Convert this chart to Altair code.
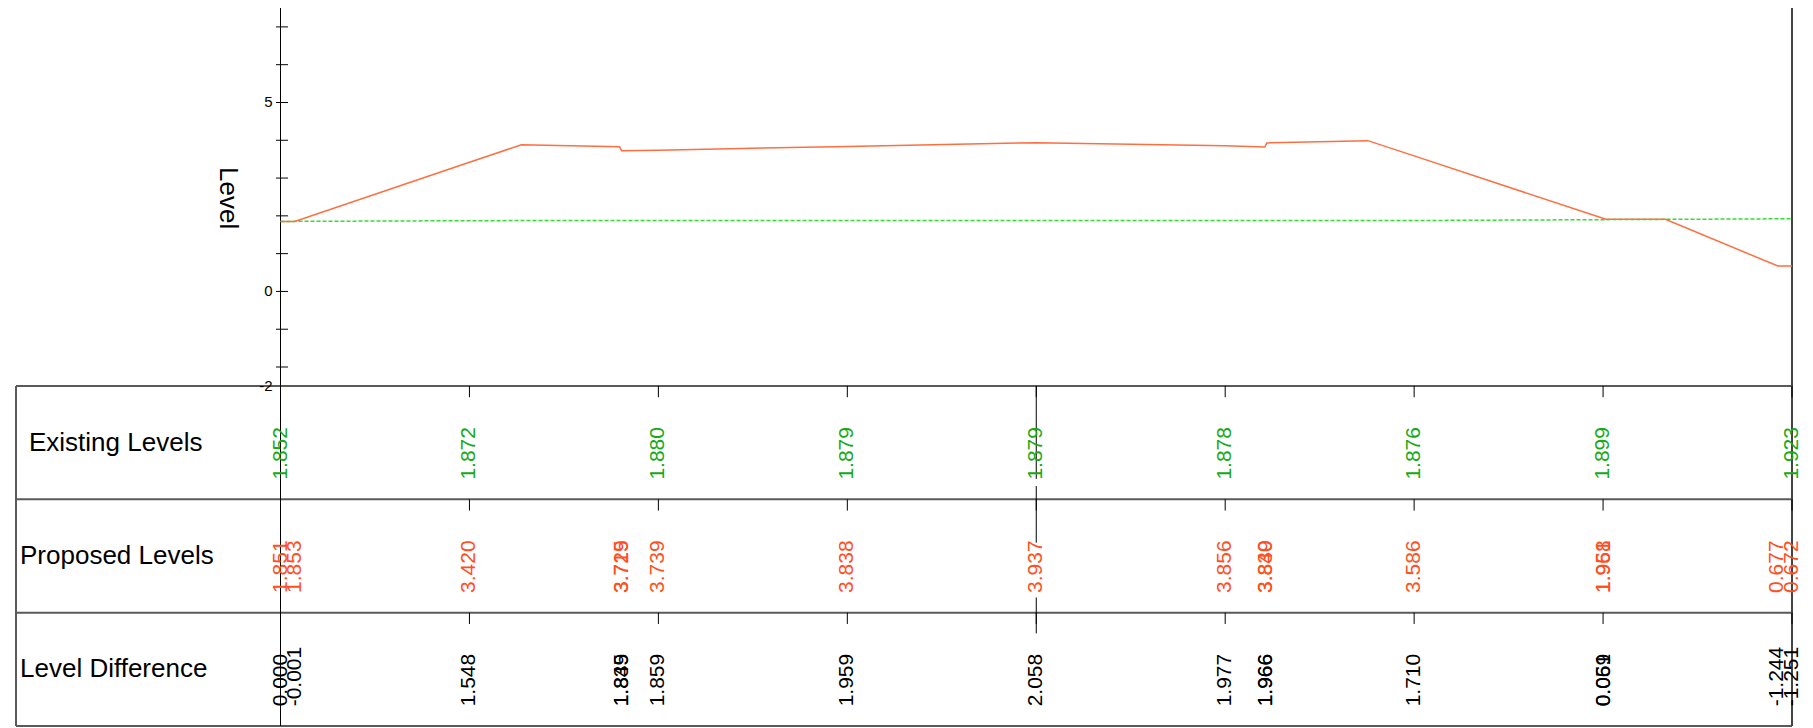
import altair as alt
import pandas as pd

FONT = "Liberation Sans"

# ---------------- data ----------------
# tabulated stations (chainage) and the existing ground levels there
station_ch = [0, 20, 40, 60, 80, 100, 120, 140, 160]
existing_levels = [1.852, 1.872, 1.880, 1.879, 1.879, 1.878, 1.876, 1.899, 1.923]

# proposed profile vertices as drawn (chainage, level)
profile_ch = [0, 1.5, 20, 25.5, 35.9, 36.1, 40, 60, 80, 100, 104.2, 104.4,
              115.1, 120, 140.3, 146.6, 158.5, 160]
profile_lv = [1.851, 1.853, 3.420, 3.88, 3.83, 3.72, 3.739, 3.838, 3.937, 3.856,
              3.82, 3.93, 3.99, 3.586, 1.91, 1.91, 0.672, 0.672]

# tabulated proposed levels / level differences (chainage, text)
label_ch = [0, 1.5, 20, 36.1, 36.1, 40, 60, 80, 100, 104.3, 104.3, 120,
            140.1, 140.1, 158.4, 160]
proposed_labels = ["1.851", "1.853", "3.420", "3.725", "3.719", "3.739", "3.838",
                   "3.937", "3.856", "3.839", "3.840", "3.586", "1.958", "1.961",
                   "0.677", "0.672"]
difference_labels = ["0.000", "-0.001", "1.548", "1.845", "1.839", "1.859", "1.959",
                     "2.058", "1.977", "1.966", "1.966", "1.710", "0.059", "0.061",
                     "-1.244", "-1.251"]

row_names = ["Existing Levels", "Proposed Levels", "Level Difference"]
y_tick_values = [-2, -1, 0, 1, 2, 3, 4, 5, 6, 7]
y_label_values = [-2.5, 0, 5]
y_label_texts = ["-2", "0", "5"]

# ---------------- layout constants ----------------
X_DOMAIN = [-28, 160]
Y_DOMAIN = [-11.5, 7.5]
ROW_TOPS = [-2.5, -5.5, -8.5]
ROW_H = 3.0
TICK_LEN = 0.3
LABEL_DROP = 2.48
MID_CH = 80
MID_SEGS = [(-2.5, -4.96), (-5.15, -6.65), (-8.1, -9.05)]
TITLE_POS = (-5.56, 2.47)

XS = alt.Scale(domain=X_DOMAIN, nice=False, zero=False)
YS = alt.Scale(domain=Y_DOMAIN, nice=False, zero=False)


def X(f):
    return alt.X(f, type="quantitative", scale=XS, axis=None)


def Y(f):
    return alt.Y(f, type="quantitative", scale=YS, axis=None)


GRAY = "#5a5a5a"

# table horizontal lines (full width)
edges_df = pd.DataFrame({"y": ROW_TOPS + [ROW_TOPS[-1] - ROW_H]})
hlines = alt.Chart(edges_df).mark_rule(color=GRAY, strokeWidth=2).encode(y=Y("y"))

# table left border
lb_df = pd.DataFrame({"x": [X_DOMAIN[0]], "y": [ROW_TOPS[0]], "y2": [ROW_TOPS[-1] - ROW_H]})
left_border = alt.Chart(lb_df).mark_rule(color=GRAY, strokeWidth=2).encode(
    x=X("x"), y=Y("y"), y2="y2:Q")

# right border (full height) at last station
rb_df = pd.DataFrame({"x": [station_ch[-1]]})
right_border = alt.Chart(rb_df).mark_rule(color="#444444", strokeWidth=2).encode(x=X("x"))

# vertical line at first station (y axis line, through the table)
ya_df = pd.DataFrame({"x": [station_ch[0]]})
yaxis_line = alt.Chart(ya_df).mark_rule(color="black", strokeWidth=1).encode(x=X("x"))

# y axis ticks and labels
yt_df = pd.DataFrame({"x": [station_ch[0]] * len(y_tick_values), "v": y_tick_values})
y_ticks = alt.Chart(yt_df).mark_tick(
    orient="horizontal", size=12, thickness=1, color="black", xOffset=1.5, opacity=1
).encode(x=X("x"), y=Y("v"))

yl_df = pd.DataFrame({"x": [station_ch[0]] * len(y_label_values), "v": y_label_values,
                      "t": y_label_texts})
y_labels = alt.Chart(yl_df).mark_text(
    align="right", baseline="middle", fontSize=15, font=FONT, color="black", dx=-8
).encode(x=X("x"), y=Y("v"), text="t:N")

# station ticks at the top of each table row
ticks_df = pd.DataFrame([(c, t) for t in ROW_TOPS for c in station_ch], columns=["ch", "top"])
station_ticks = alt.Chart(ticks_df).transform_calculate(
    bot=f"datum.top - {TICK_LEN}"
).mark_rule(color="black", strokeWidth=1).encode(x=X("ch"), y=Y("top"), y2="bot:Q")

# mid station marker line
mid_df = pd.DataFrame({"ch": [MID_CH] * len(MID_SEGS),
                       "y": [s[0] for s in MID_SEGS], "y2": [s[1] for s in MID_SEGS]})
mid_line = alt.Chart(mid_df).mark_rule(color="black", strokeWidth=1).encode(
    x=X("ch"), y=Y("y"), y2="y2:Q")

# existing ground line
ex_df = pd.DataFrame({"ch": station_ch, "lv": existing_levels})
ex_line = alt.Chart(ex_df).mark_line(color="#33dd33", strokeWidth=1.5, strokeDash=[4, 2]).encode(
    x=X("ch"), y=Y("lv"))

# proposed line
pr_df = pd.DataFrame({"ch": profile_ch, "lv": profile_lv})
pr_line = alt.Chart(pr_df).mark_line(color="#ff6e40", strokeWidth=1.5).encode(
    x=X("ch"), y=Y("lv"))

# table labels
text_kw = dict(angle=270, align="left", baseline="middle", fontSize=21, font=FONT)

ex_lab_df = pd.DataFrame({"ch": station_ch, "txt": [f"{v:.3f}" for v in existing_levels]})
ex_lab_df["y"] = ROW_TOPS[0] - LABEL_DROP
ex_labels = alt.Chart(ex_lab_df).mark_text(color="#15aa15", **text_kw).encode(
    x=X("ch"), y=Y("y"), text="txt:N")

pr_lab_df = pd.DataFrame({"ch": label_ch, "txt": proposed_labels})
pr_lab_df["y"] = ROW_TOPS[1] - LABEL_DROP
pr_labels = alt.Chart(pr_lab_df).mark_text(color="#ff4f1f", **text_kw).encode(
    x=X("ch"), y=Y("y"), text="txt:N")

df_lab_df = pd.DataFrame({"ch": label_ch, "txt": difference_labels})
df_lab_df["y"] = ROW_TOPS[2] - LABEL_DROP
df_labels = alt.Chart(df_lab_df).mark_text(color="black", **text_kw).encode(
    x=X("ch"), y=Y("y"), text="txt:N")

# row names
rows_df = pd.DataFrame({"name": row_names, "x": [X_DOMAIN[0]] * 3,
                        "y": [t - ROW_H / 2 for t in ROW_TOPS]})
row_first = alt.Chart(rows_df.iloc[:1]).mark_text(
    align="left", baseline="middle", fontSize=26, font=FONT, color="black", dx=13
).encode(x=X("x"), y=Y("y"), text="name:N")
row_rest = alt.Chart(rows_df.iloc[1:]).mark_text(
    align="left", baseline="middle", fontSize=26, font=FONT, color="black", dx=4
).encode(x=X("x"), y=Y("y"), text="name:N")

# axis title
title_df = pd.DataFrame({"x": [TITLE_POS[0]], "y": [TITLE_POS[1]], "t": ["Level"]})
title = alt.Chart(title_df).mark_text(
    angle=90, align="center", baseline="middle", fontSize=26, font=FONT, color="black"
).encode(x=X("x"), y=Y("y"), text="t:N")

chart = alt.layer(
    hlines, left_border, right_border, station_ticks, mid_line, yaxis_line,
    y_ticks, y_labels,
    ex_line, pr_line, ex_labels, pr_labels, df_labels, row_first, row_rest, title,
).properties(
    width=1776, height=718,
    autosize=alt.AutoSizeParams(type="none"),
    padding={"left": 8, "top": 0, "right": 13, "bottom": 2},
    background="white",
).configure_view(stroke=None)

chart.save("out.html", embed_options={"renderer": "svg", "actions": False})
